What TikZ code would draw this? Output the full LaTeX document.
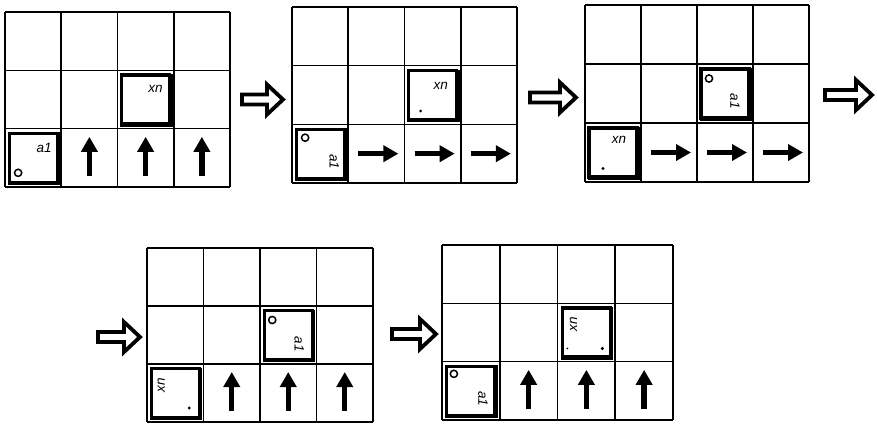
\documentclass[tikz,border=0pt]{standalone}
\usepackage{fontspec}
\setsansfont{Liberation Sans}
\usetikzlibrary{arrows.meta}
\tikzset{
  gridln/.style={line width=1.6pt, black},
  blockln/.style={line width=3.2pt, black, line join=miter},
  cellarrow/.style={line width=5.4pt, -{Triangle[width=16pt,length=15pt]}},
  bigarrow/.style={line width=3.8pt, fill=white, line join=miter},
  lab/.style={font=\sffamily\itshape\fontsize{13.5}{13.5}\selectfont, inner sep=0pt},
  ring/.style={line width=1.5pt},
}
\newcommand\gridG[5]{%
  \foreach \i in {0,...,4} \draw[gridln] ({#2+\i*#4},#3) -- ({#2+\i*#4},{#3+3*#5});
  \foreach \j in {0,...,3} \draw[gridln] (#2,{#3+\j*#5}) -- ({#2+4*#4},{#3+\j*#5});
  \foreach \c in {0,...,3}{\foreach \r in {0,...,2}{%
    \coordinate (#1-\c-\r) at ({#2+(\c+0.5)*#4},{#3+(\r+0.5)*#5});}}%
}
\newcommand\blockbox[1]{%
  \draw[blockln] ([shift={(-24,-24.5)}]#1) rectangle ([shift={(24,24.5)}]#1);
  \draw[line width=1.8pt] ([shift={(-25.5,26.3)}]#1) -- ([shift={(26,26.3)}]#1) -- ([shift={(26,-25.5)}]#1);
}
\newcommand\bigarr[4]{% name, x0, x1, yc
  \draw[bigarrow] (#2,{#4-5}) -- ({#3-16},{#4-5}) -- ({#3-16},{#4-15}) -- (#3,#4)
     -- ({#3-16},{#4+15}) -- ({#3-16},{#4+5}) -- (#2,{#4+5}) -- cycle;
  \coordinate (#1) at (#3,#4);
}
\newcommand\uparr[1]{\draw[cellarrow] ([shift={(0,18)}]#1) -- ([shift={(0,-21)}]#1);}
\newcommand\rtarr[1]{\draw[cellarrow] ([shift={(-18,0)}]#1) -- ([shift={(22,0)}]#1);}
\begin{document}
\begin{tikzpicture}[x=1pt,y=-1pt]
\useasboundingbox (0,0) rectangle (877,424);
\fill[white] (0,0) rectangle (877,424);

% ---------- grid 1
\gridG{ga}{5}{12}{56.25}{58.33}
\blockbox{ga-0-2}
\node[lab] (ga-a) at ([shift={(11,-10)}]ga-0-2) {a1};
\draw[ring] ([shift={(-15,15)}]ga-0-2) circle (3.6pt);
\blockbox{ga-2-1}
\node[lab] (ga-x) at ([shift={(10,-11)}]ga-2-1) {xn};
\uparr{ga-1-2} \uparr{ga-2-2} \uparr{ga-3-2}

\bigarr{ba}{242}{283}{99.5}

% ---------- grid 2
\gridG{gb}{292}{7}{56.25}{58.67}
\blockbox{gb-0-2}
\node[lab, rotate=-90] (gb-a) at ([shift={(14,8)}]gb-0-2) {a1};
\draw[ring] ([shift={(-15,-16)}]gb-0-2) circle (3.6pt);
\blockbox{gb-2-1}
\node[lab] (gb-x) at ([shift={(8,-9)}]gb-2-1) {xn};
\fill ([shift={(-12,16)}]gb-2-1) circle (1.5pt);
\rtarr{gb-1-2} \rtarr{gb-2-2} \rtarr{gb-3-2}

\bigarr{bb}{530}{576}{97.5}

% ---------- grid 3
\gridG{gc}{585}{5}{56}{59}
\blockbox{gc-2-1}
\node[lab, rotate=-90] (gc-a) at ([shift={(10,8)}]gc-2-1) {a1};
\draw[ring] ([shift={(-16,-15)}]gc-2-1) circle (3.6pt);
\blockbox{gc-0-2}
\node[lab] (gc-x) at ([shift={(6,-13)}]gc-0-2) {xn};
\fill ([shift={(-10,16)}]gc-0-2) circle (1.7pt);
\rtarr{gc-1-2} \rtarr{gc-2-2} \rtarr{gc-3-2}

\bigarr{bc}{825}{872}{95}

% ---------- grid 4
\bigarr{bd}{98}{140}{337}
\gridG{gd}{147}{248}{56.5}{58}
\blockbox{gd-0-2}
\node[lab, rotate=90] (gd-x) at ([shift={(-14,-8)}]gd-0-2) {xn};
\fill ([shift={(14,15)}]gd-0-2) circle (1.7pt);
\blockbox{gd-2-1}
\node[lab, rotate=-90] (gd-a) at ([shift={(11,9)}]gd-2-1) {a1};
\draw[ring] ([shift={(-16,-15)}]gd-2-1) circle (3.6pt);
\uparr{gd-1-2} \uparr{gd-2-2} \uparr{gd-3-2}

% ---------- grid 5
\bigarr{be}{392}{436}{334}
\gridG{ge}{442}{245}{57.75}{58.33}
\blockbox{ge-2-1}
\node[lab, rotate=90] (ge-x) at ([shift={(-13,-8)}]ge-2-1) {xn};
\fill ([shift={(16,16)}]ge-2-1) circle (1.8pt);
\fill ([shift={(-19,16)}]ge-2-1) circle (0.9pt);
\blockbox{ge-0-2}
\node[lab, rotate=-90] (ge-a) at ([shift={(12,8)}]ge-0-2) {a1};
\draw[ring] ([shift={(-17,-17)}]ge-0-2) circle (3.6pt);
\uparr{ge-1-2} \uparr{ge-2-2} \uparr{ge-3-2}
\end{tikzpicture}
\end{document}
